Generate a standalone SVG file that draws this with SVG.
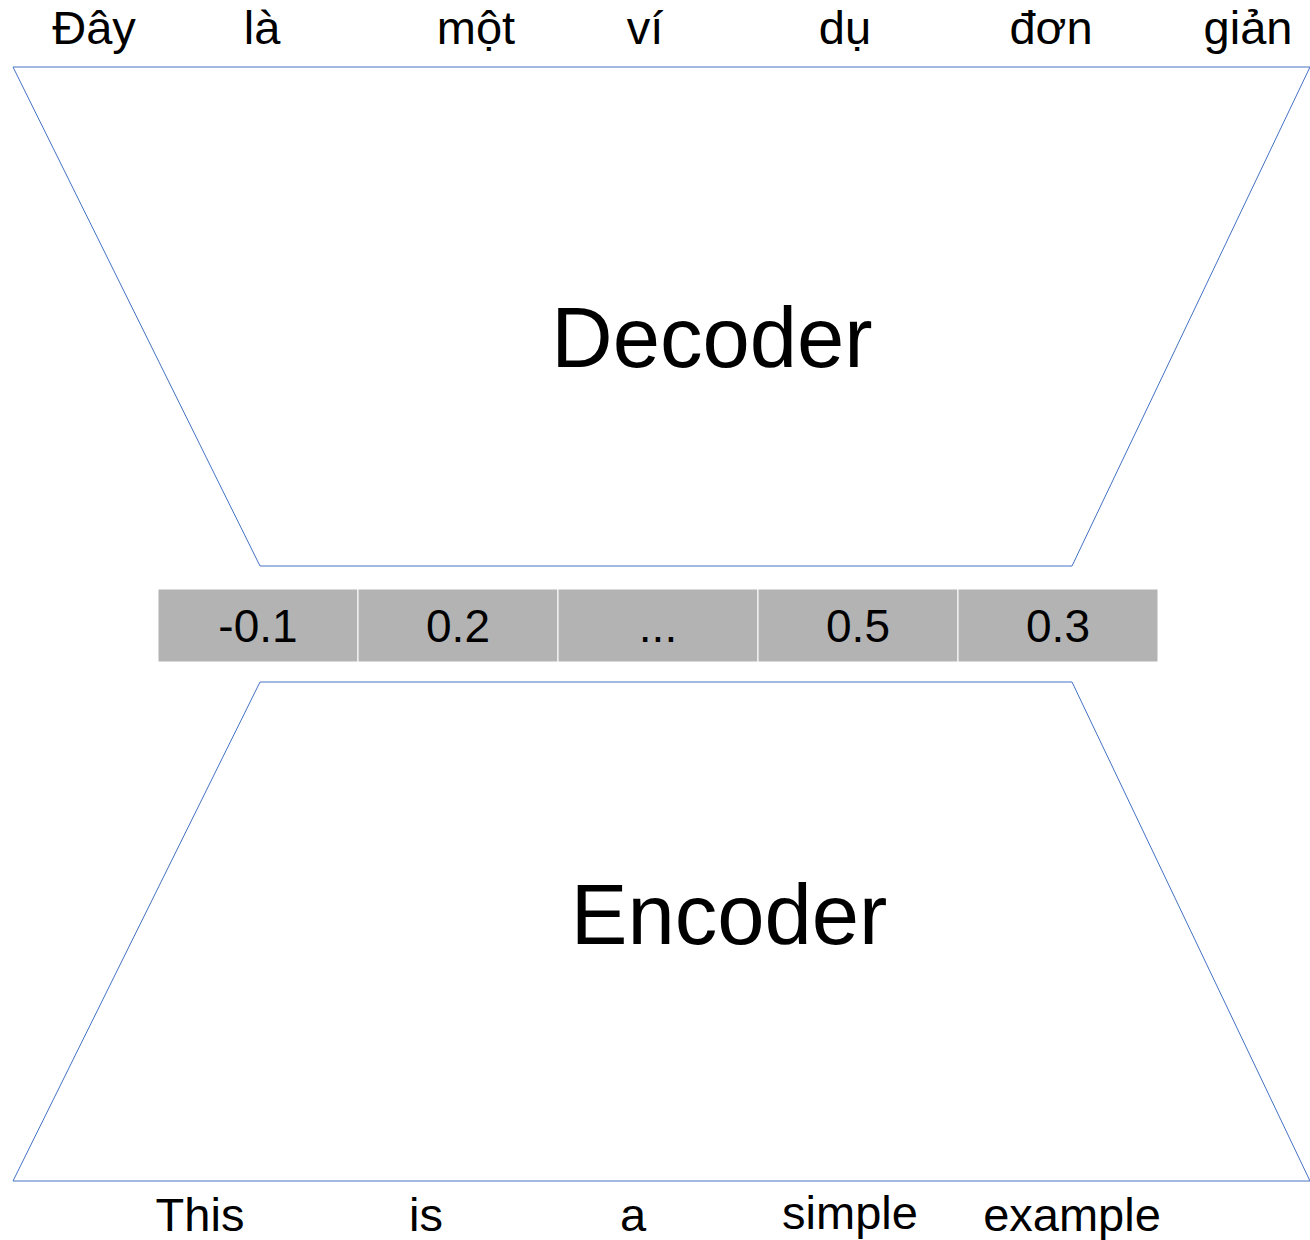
<svg xmlns="http://www.w3.org/2000/svg" width="1310" height="1240" viewBox="0 0 1310 1240">
<style>
text{font-family:"Liberation Sans",Arial,sans-serif;fill:#000;text-anchor:middle}
.w{font-size:47px}
.big{font-size:85px}
.trap{fill:#fff;stroke:#4472c4;stroke-width:1}
.cell{fill:#b3b3b3;stroke:#fff;stroke-width:1}
.v{font-size:46px}
</style>
<rect width="1310" height="1240" fill="#fff"/>
<g id="target-words">
<text class="w" x="94" y="44">Đây</text>
<text class="w" x="262" y="44">là</text>
<text class="w" x="476" y="44">một</text>
<text class="w" x="645" y="44">ví</text>
<text class="w" x="845" y="44">dụ</text>
<text class="w" x="1051" y="44">đơn</text>
<text class="w" x="1248" y="44">giản</text>
</g>
<g id="decoder">
<polygon class="trap" points="13,67 1310,67 1072,566 260,566"/>
<text class="big" x="712" y="367">Decoder</text>
</g>
<g id="vector">
<rect class="cell" x="158" y="589" width="200" height="73"/>
<rect class="cell" x="358" y="589" width="200" height="73"/>
<rect class="cell" x="558" y="589" width="200" height="73"/>
<rect class="cell" x="758" y="589" width="200" height="73"/>
<rect class="cell" x="958" y="589" width="200" height="73"/>
<text class="v" x="258" y="642">-0.1</text>
<text class="v" x="458" y="642">0.2</text>
<text class="v" x="658" y="642">...</text>
<text class="v" x="858" y="642">0.5</text>
<text class="v" x="1058" y="642">0.3</text>
</g>
<g id="encoder">
<polygon class="trap" points="260,682 1072,682 1310,1181 13,1181"/>
<text class="big" x="729" y="944">Encoder</text>
</g>
<g id="source-words">
<text class="w" x="200" y="1231">This</text>
<text class="w" x="426" y="1231">is</text>
<text class="w" x="633" y="1231">a</text>
<text class="w" x="850" y="1229">simple</text>
<text class="w" x="1072" y="1231">example</text>
</g>
<g id="connectors"></g>
</svg>
